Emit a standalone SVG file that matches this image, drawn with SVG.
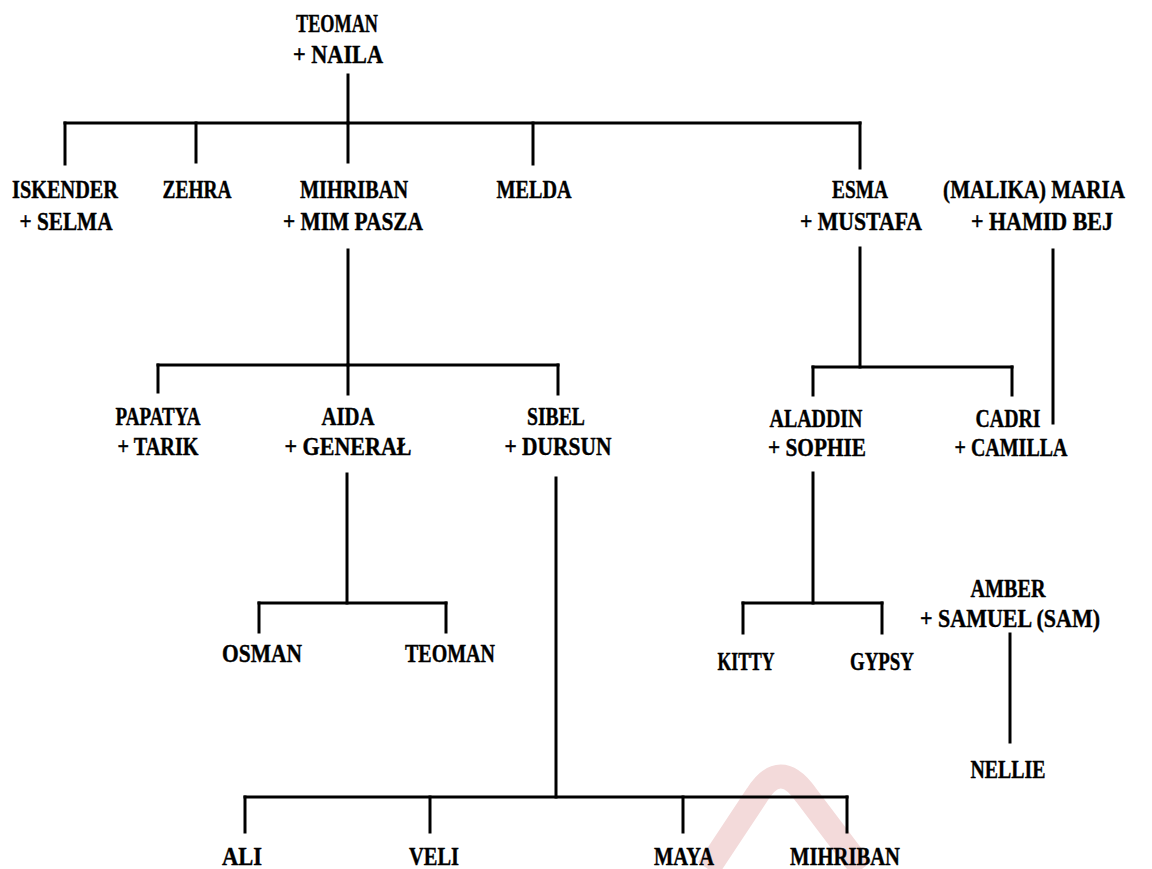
<svg xmlns="http://www.w3.org/2000/svg" width="1152" height="869" viewBox="0 0 1152 869">
<style>
.t{font-family:"Liberation Serif","Times New Roman",serif;font-weight:bold;font-size:26px;fill:#000;text-anchor:middle;stroke:#000;stroke-width:0.4}
.c line{stroke:#000;stroke-width:3;stroke-linecap:square}
</style>
<rect width="1152" height="869" fill="#fff"/>
<path d="M708 869 L757 795 Q780 758 806 795 L862 869" fill="none" stroke="#f3dada" stroke-width="24"/>
<g class="c" id="connectors">
<line x1="348" y1="75" x2="348" y2="123"/>
<line x1="65" y1="123" x2="860" y2="123"/>
<line x1="65" y1="123" x2="65" y2="164"/>
<line x1="196" y1="123" x2="196" y2="162"/>
<line x1="348" y1="123" x2="348" y2="162"/>
<line x1="533" y1="123" x2="533" y2="164"/>
<line x1="860" y1="123" x2="860" y2="168"/>
<line x1="348" y1="250" x2="348" y2="365"/>
<line x1="158" y1="365" x2="558" y2="365"/>
<line x1="158" y1="365" x2="158" y2="392"/>
<line x1="348" y1="365" x2="348" y2="394"/>
<line x1="558" y1="365" x2="558" y2="394"/>
<line x1="860" y1="248" x2="860" y2="367"/>
<line x1="813" y1="367" x2="1012" y2="367"/>
<line x1="813" y1="367" x2="813" y2="395"/>
<line x1="1012" y1="367" x2="1012" y2="395"/>
<line x1="1053" y1="250" x2="1053" y2="423"/>
<line x1="347" y1="474" x2="347" y2="603"/>
<line x1="259" y1="603" x2="446" y2="603"/>
<line x1="259" y1="603" x2="259" y2="632"/>
<line x1="446" y1="603" x2="446" y2="632"/>
<line x1="556" y1="478" x2="556" y2="797"/>
<line x1="245" y1="797" x2="847" y2="797"/>
<line x1="245" y1="797" x2="245" y2="832"/>
<line x1="430" y1="797" x2="430" y2="832"/>
<line x1="683" y1="797" x2="683" y2="832"/>
<line x1="847" y1="797" x2="847" y2="832"/>
<line x1="813" y1="473" x2="813" y2="603"/>
<line x1="743" y1="603" x2="882" y2="603"/>
<line x1="743" y1="603" x2="743" y2="633"/>
<line x1="882" y1="603" x2="882" y2="633"/>
<line x1="1010" y1="634" x2="1010" y2="742"/>
</g>
<g id="teoman-naila"><text class="t" x="337" y="32" textLength="82" lengthAdjust="spacingAndGlyphs">TEOMAN</text><text class="t" x="338" y="63" textLength="90" lengthAdjust="spacingAndGlyphs">+ NAILA</text></g>
<g id="iskender"><text class="t" x="65" y="198" textLength="106" lengthAdjust="spacingAndGlyphs">ISKENDER</text><text class="t" x="66" y="230" textLength="93" lengthAdjust="spacingAndGlyphs">+ SELMA</text></g>
<g id="zehra"><text class="t" x="197" y="198" textLength="69" lengthAdjust="spacingAndGlyphs">ZEHRA</text></g>
<g id="mihriban"><text class="t" x="354" y="198" textLength="108" lengthAdjust="spacingAndGlyphs">MIHRIBAN</text><text class="t" x="353" y="230" textLength="140" lengthAdjust="spacingAndGlyphs">+ MIM PASZA</text></g>
<g id="melda"><text class="t" x="534" y="198" textLength="75" lengthAdjust="spacingAndGlyphs">MELDA</text></g>
<g id="esma"><text class="t" x="860" y="198" textLength="56" lengthAdjust="spacingAndGlyphs">ESMA</text><text class="t" x="861" y="230" textLength="122" lengthAdjust="spacingAndGlyphs">+ MUSTAFA</text></g>
<g id="maria"><text class="t" transform="translate(1034,198) scale(0.81,1)" x="0" y="0">(MALIKA) MARIA</text><text class="t" x="1042" y="230" textLength="142" lengthAdjust="spacingAndGlyphs">+ HAMID BEJ</text></g>
<g id="papatya"><text class="t" x="158" y="425" textLength="85" lengthAdjust="spacingAndGlyphs">PAPATYA</text><text class="t" x="158" y="455" textLength="81" lengthAdjust="spacingAndGlyphs">+ TARIK</text></g>
<g id="aida"><text class="t" x="348" y="425" textLength="53" lengthAdjust="spacingAndGlyphs">AIDA</text><text class="t" x="348" y="455" textLength="127" lengthAdjust="spacingAndGlyphs">+ GENERAŁ</text></g>
<g id="sibel"><text class="t" x="556" y="425" textLength="58" lengthAdjust="spacingAndGlyphs">SIBEL</text><text class="t" x="558" y="455" textLength="107" lengthAdjust="spacingAndGlyphs">+ DURSUN</text></g>
<g id="aladdin"><text class="t" x="816" y="427" textLength="93" lengthAdjust="spacingAndGlyphs">ALADDIN</text><text class="t" x="817" y="456" textLength="98" lengthAdjust="spacingAndGlyphs">+ SOPHIE</text></g>
<g id="cadri"><text class="t" x="1008" y="427" textLength="65" lengthAdjust="spacingAndGlyphs">CADRI</text><text class="t" x="1011" y="456" textLength="113" lengthAdjust="spacingAndGlyphs">+ CAMILLA</text></g>
<g id="osman"><text class="t" x="262" y="662" textLength="80" lengthAdjust="spacingAndGlyphs">OSMAN</text></g>
<g id="teoman2"><text class="t" x="450" y="662" textLength="90" lengthAdjust="spacingAndGlyphs">TEOMAN</text></g>
<g id="kitty"><text class="t" x="746" y="670" textLength="57" lengthAdjust="spacingAndGlyphs">KITTY</text></g>
<g id="gypsy"><text class="t" x="882" y="670" textLength="64" lengthAdjust="spacingAndGlyphs">GYPSY</text></g>
<g id="amber"><text class="t" x="1008" y="597" textLength="75" lengthAdjust="spacingAndGlyphs">AMBER</text><text class="t" x="1010" y="627" textLength="180" lengthAdjust="spacingAndGlyphs">+ SAMUEL (SAM)</text></g>
<g id="nellie"><text class="t" x="1008" y="778" textLength="75" lengthAdjust="spacingAndGlyphs">NELLIE</text></g>
<g id="ali"><text class="t" x="242" y="865" textLength="40" lengthAdjust="spacingAndGlyphs">ALI</text></g>
<g id="veli"><text class="t" x="434" y="865" textLength="50" lengthAdjust="spacingAndGlyphs">VELI</text></g>
<g id="maya"><text class="t" x="684" y="865" textLength="60" lengthAdjust="spacingAndGlyphs">MAYA</text></g>
<g id="mihriban2"><text class="t" x="845" y="865" textLength="110" lengthAdjust="spacingAndGlyphs">MIHRIBAN</text></g>
</svg>
